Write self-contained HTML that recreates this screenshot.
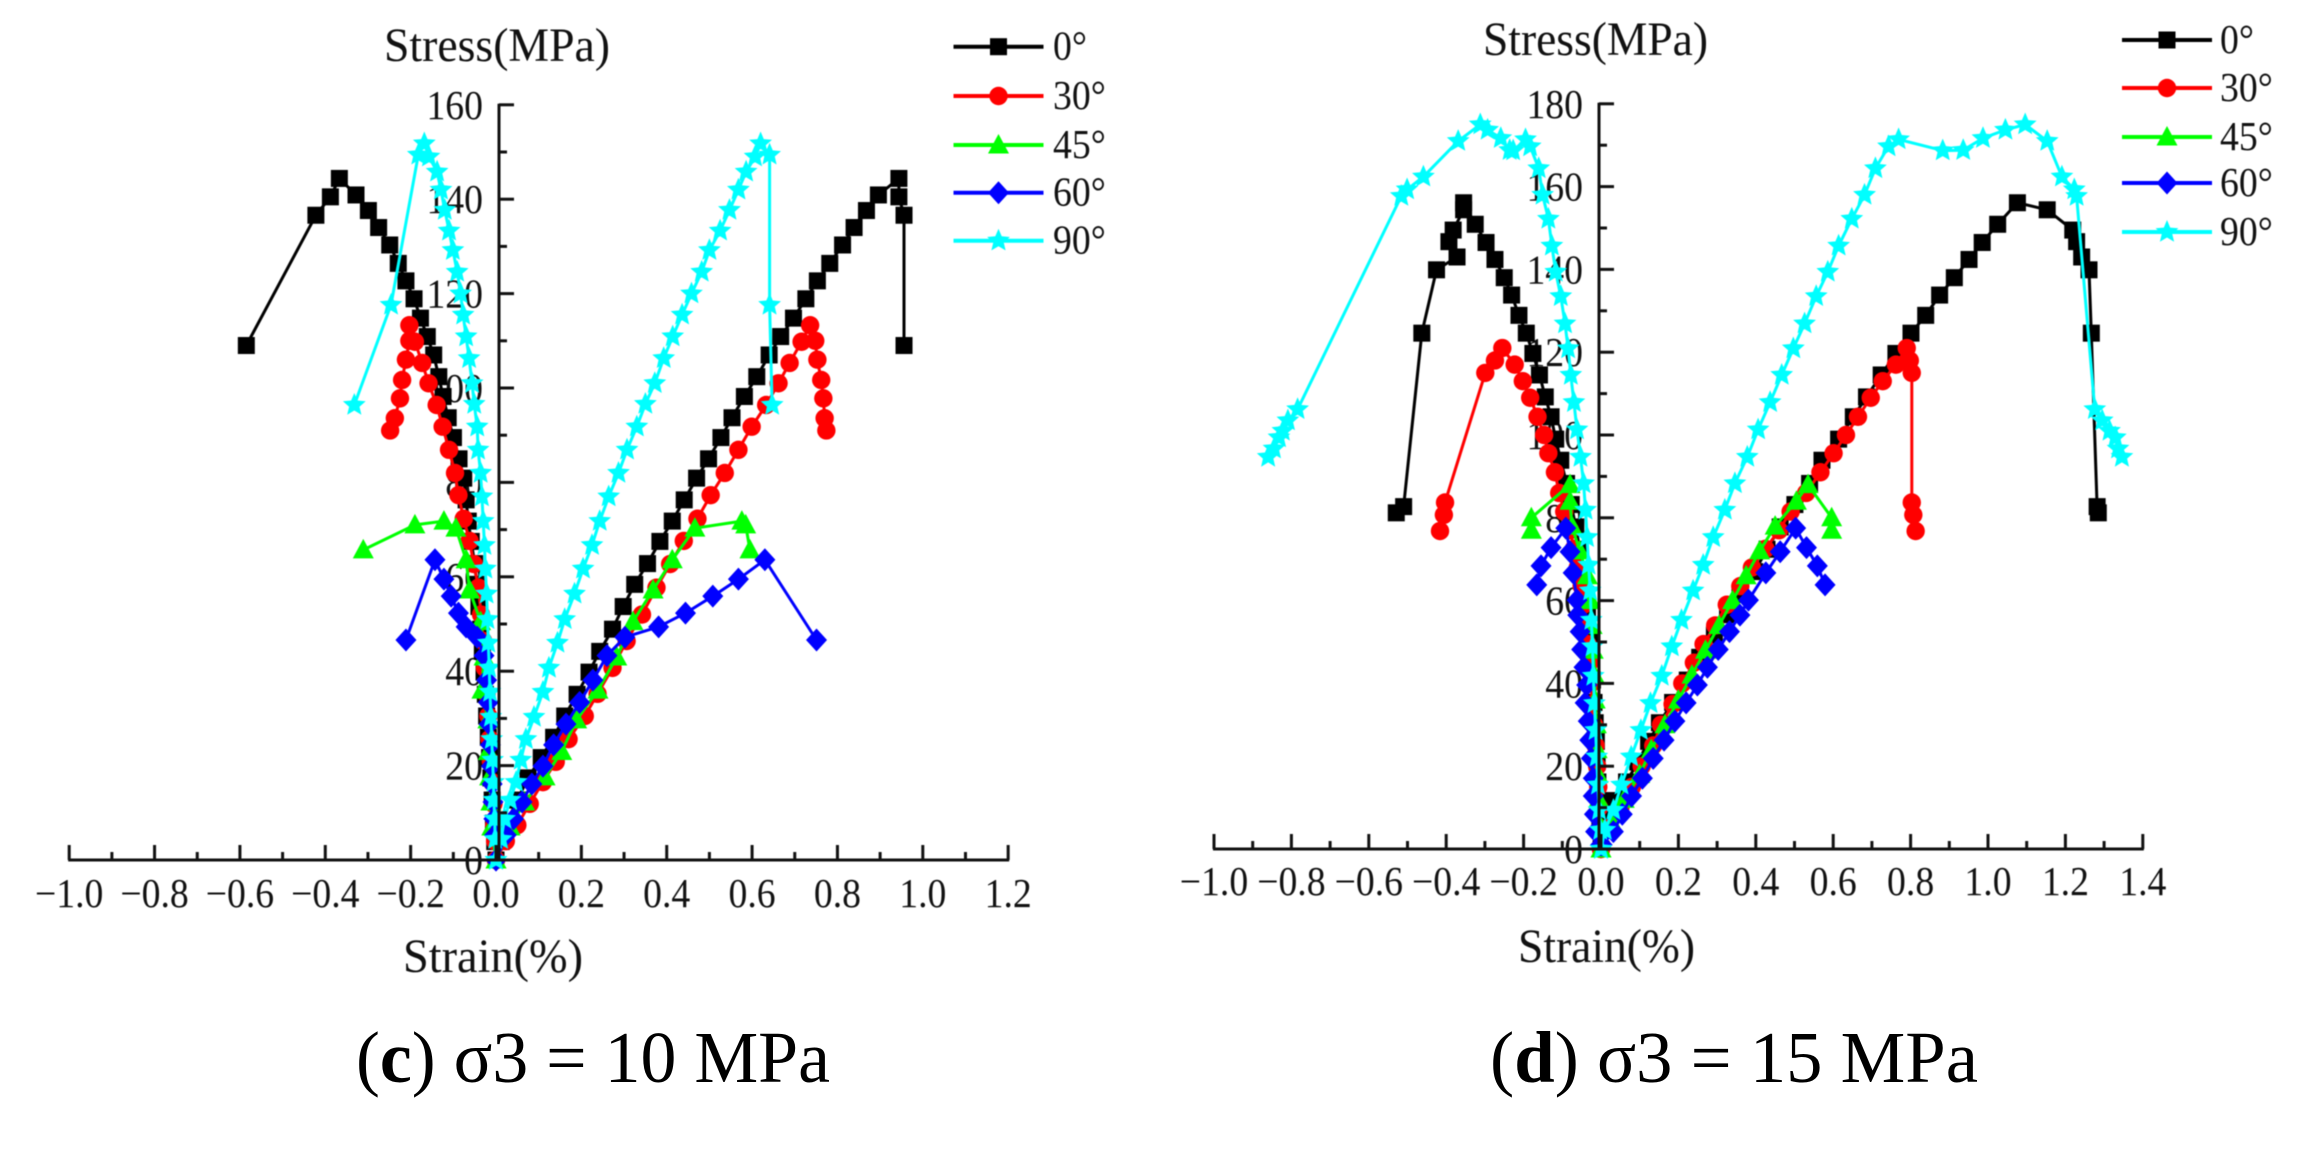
<!DOCTYPE html>
<html lang="en">
<head>
<meta charset="utf-8">
<title>Stress-strain curves at confining pressures of 10 and 15 MPa</title>
<style>
html,body{margin:0;padding:0;background:#fff;}
body{width:2297px;height:1151px;overflow:hidden;}
svg{display:block;}
#figure > g{filter:blur(0.5px);}
text{font-family:"Liberation Serif","DejaVu Serif",serif;fill:#111;}
#figure > text{fill:#000;}
</style>
</head>
<body>
<svg id="figure" xmlns="http://www.w3.org/2000/svg" width="2297" height="1151" viewBox="0 0 2297 1151">
<rect x="0" y="0" width="2297" height="1151" fill="#fff"/>
<text x="356" y="1082" font-size="73" textLength="474" lengthAdjust="spacingAndGlyphs">(<tspan font-weight="bold">c</tspan>) σ3 = 10 MPa</text>
<text x="1490" y="1082" font-size="73" textLength="488" lengthAdjust="spacingAndGlyphs">(<tspan font-weight="bold">d</tspan>) σ3 = 15 MPa</text>
</svg>
<script>
// Panel (c), sigma3 = 10 MPa
const c0Stress=[0,3.9,7.8,12.7,17.4,21.7,26,30.5,35.1,39.8,44.2,48.9,53.7,58.4,62.8,67.5,71.8,76.3,80.9,85,89.5,93.7,98.2,102.4,107,110.9,114.8,118.9,122.7,126.4,130.3,134,137.6,140.9,144.4,140.5,136.6,109];
const c0Axial=[0,.012,.024,.05,.075,.106,.135,.161,.19,.218,.243,.273,.298,.325,.355,.384,.413,.441,.47,.498,.527,.553,.582,.611,.64,.667,.697,.726,.753,.782,.812,.839,.868,.896,.944,.944,.956,.956];
const c0Lateral=[0,-.003,-.006,-.009,-.012,-.015,-.018,-.022,-.025,-.028,-.032,-.036,-.04,-.045,-.05,-.058,-.065,-.07,-.0756,-.0866,-.0997,-.112,-.124,-.134,-.146,-.161,-.177,-.192,-.211,-.229,-.249,-.275,-.299,-.328,-.367,-.388,-.422,-.585];
const c30Stress=[0,4,7.4,11.9,16.5,20.8,25.6,30.5,35.2,40.7,46.4,52,57.7,62.7,67.6,72.3,77.3,82,86.9,91.8,96.4,101,105.3,109.8,113.3,110,106,101.7,97.8,93.6,91];
const c30Axial=[0,.023,.05,.079,.11,.14,.17,.208,.238,.273,.306,.342,.376,.408,.44,.472,.503,.536,.568,.599,.633,.662,.688,.716,.736,.748,.753,.762,.767,.77,.774];
const c30Lateral=[0,-.002,-.004,-.006,-.009,-.012,-.015,-.018,-.022,-.026,-.03,-.035,-.041,-.052,-.062,-.0756,-.088,-.096,-.11,-.125,-.139,-.158,-.173,-.19,-.203,-.203,-.211,-.22,-.225,-.237,-.248];
const c45Stress=[0,7,12.3,17.6,23,29.7,36,43,50.5,57.2,63.6,70.3,71.8,71,65.7];
const c45Axial=[0,.033,.067,.115,.154,.189,.239,.283,.321,.368,.413,.466,.576,.585,.595];
const c45Lateral=[0,-.01,-.012,-.015,-.018,-.019,-.033,-.028,-.036,-.062,-.07,-.094,-.122,-.19,-.311];
const c60Stress=[0,5.3,8.7,12.3,16.1,19.9,24.4,28.8,33.4,38.1,43.3,47.2,49.4,52.3,55.9,59.5,63.6,46.6];
const c60Axial=[0,.024,.041,.061,.084,.11,.135,.164,.196,.227,.26,.302,.381,.444,.508,.568,.63,.751];
const c60Lateral=[0,-.003,-.005,-.007,-.009,-.011,-.013,-.016,-.018,-.022,-.028,-.044,-.07,-.088,-.105,-.122,-.143,-.211];
const c90Stress=[0,4.4,8.7,12.7,16.5,21.2,25.6,30.3,35.6,40.7,46,51,56.4,61.7,66.7,71.8,77,82,86.9,91.8,96.6,101,106.3,110.9,115.5,120,124.6,129.2,133.3,137.7,142,145.8,149,151.8,149.4,117.6,96.4];
const c90Axial=[0,.012,.02,.033,.047,.058,.07,.089,.11,.124,.144,.161,.184,.204,.225,.243,.264,.287,.307,.33,.35,.372,.393,.414,.436,.458,.482,.5,.525,.547,.568,.586,.607,.62,.641,.641,.647];
const c90Lateral=[0,-.002,-.003,-.005,-.006,-.008,-.01,-.012,-.014,-.016,-.018,-.02,-.022,-.025,-.027,-.03,-.033,-.036,-.042,-.044,-.051,-.056,-.063,-.07,-.077,-.083,-.091,-.101,-.11,-.12,-.129,-.138,-.157,-.168,-.182,-.246,-.332];

// Panel (d), sigma3 = 15 MPa
const d0Stress=[0,7.3,11.7,16.2,21,26,30.5,35.4,40.8,46.3,51.7,56.6,61.5,67,72.4,77.8,83.2,88.3,93.9,99,104.4,109.2,114.5,119.7,124.6,128.9,133.8,138,142.4,146.5,150.9,156.1,154.4,149.5,146.7,143,139.9,124.6,82.7,81.2];
const d0Axial=[0,.019,.038,.066,.095,.123,.151,.185,.223,.255,.293,.327,.359,.397,.429,.463,.501,.539,.571,.614,.652,.686,.724,.762,.801,.839,.875,.913,.951,.985,1.025,1.076,1.153,1.219,1.229,1.242,1.261,1.267,1.282,1.285];
const d0Lateral=[0,-.003,-.005,-.008,-.01,-.012,-.015,-.018,-.022,-.026,-.03,-.035,-.04,-.047,-.055,-.065,-.077,-.089,-.104,-.117,-.129,-.144,-.159,-.176,-.193,-.212,-.231,-.25,-.274,-.297,-.325,-.355,-.355,-.382,-.393,-.372,-.425,-.463,-.51,-.529];
const d30Stress=[0,5,10,15,20,25,30,35,40,45,49.5,54,59,63.5,68,72.5,77,81.5,86,91,95.6,100,104.4,109,113,117,121,118,115,83.7,80.7,76.8];
const d30Axial=[0,.02,.05,.08,.105,.135,.155,.185,.21,.24,.265,.295,.325,.36,.39,.425,.46,.49,.53,.567,.601,.633,.664,.697,.728,.762,.79,.798,.803,.803,.807,.813];
const d30Lateral=[0,-.002,-.005,-.007,-.01,-.014,-.018,-.022,-.026,-.03,-.035,-.04,-.045,-.05,-.06,-.07,-.08,-.095,-.108,-.119,-.136,-.147,-.164,-.183,-.202,-.223,-.255,-.274,-.299,-.403,-.406,-.416];
const d45Stress=[0,6,12,18,24,30,36,42,48,54,60,66,72,78,84,88,80,77];
const d45Axial=[0,.03,.06,.1,.13,.165,.2,.235,.27,.305,.34,.375,.41,.45,.505,.535,.596,.596];
const d45Lateral=[0,-.004,-.006,-.008,-.01,-.012,-.015,-.017,-.02,-.023,-.027,-.035,-.055,-.075,-.08,-.08,-.18,-.18];
const d60Stress=[1,4.2,8.4,12.8,17.1,21.9,26.3,30.9,35.3,39.6,43.9,48.2,52.5,56.5,60.1,66.7,71.8,77.5,72.8,68.4,63.8];
const d60Axial=[.003,.032,.055,.079,.107,.135,.163,.191,.22,.249,.275,.303,.332,.359,.381,.426,.463,.503,.531,.559,.579];
const d60Lateral=[-.001,-.014,-.017,-.02,-.02,-.025,-.029,-.033,-.041,-.037,-.044,-.05,-.054,-.06,-.062,-.072,-.08,-.091,-.129,-.155,-.166];
const d90Stress=[0,4.6,9.4,15.5,22.3,28.7,35.2,41.8,48.9,55.3,62.4,68.6,75.3,81.9,88.3,94.7,101.3,107.9,114.5,120.9,126.9,133.5,139.4,145.7,152.2,158,164.4,169.7,171.4,168.7,168.8,171.7,173.7,175,171,162.4,159.3,157.7,106.2,103.5,101,99.4,96.7,94.7];
const d90Axial=[0,.01,.032,.053,.078,.103,.128,.157,.183,.208,.238,.264,.29,.32,.346,.378,.406,.437,.467,.497,.526,.556,.586,.614,.648,.681,.709,.743,.769,.883,.936,.987,1.045,1.096,1.153,1.191,1.223,1.229,1.276,1.295,1.314,1.329,1.336,1.346];
const d90Lateral=[0,-.002,-.005,-.008,-.011,-.014,-.017,-.02,-.022,-.025,-.028,-.032,-.036,-.04,-.045,-.053,-.062,-.07,-.078,-.085,-.093,-.104,-.117,-.127,-.136,-.151,-.161,-.183,-.195,-.227,-.236,-.259,-.293,-.312,-.369,-.459,-.501,-.516,-.784,-.809,-.822,-.832,-.845,-.86];

// Tick labels and legend
const cStrainTicks=[-1,-.8,-.6,-.4,-.2,0,.2,.4,.6,.8,1,1.2];
const cStressTicks=[0,20,40,60,80,100,120,140,160];
const dStrainTicks=[-1,-.8,-.6,-.4,-.2,0,.2,.4,.6,.8,1,1.2,1.4];
const dStressTicks=[0,20,40,60,80,100,120,140,160,180];
const seriesAngles=['0°','30°','45°','60°','90°'];
const seriesColors=['#000','#f00','#0f0','#00f','#0ff'];
const seriesMarkers=['square','circle','triangle','diamond','star'];

const NS='http://www.w3.org/2000/svg';
const figure=document.getElementById('figure');

function make(parent,tag,attrs){
  const node=document.createElementNS(NS,tag);
  for(const k in attrs){node.setAttribute(k,attrs[k]);}
  parent.appendChild(node);
  return node;
}

// Text in the reference is slightly condensed horizontally.
function narrowText(parent,x,y,anchor){
  return make(parent,'text',{transform:'translate('+x+','+y+') scale(.92,1)','font-size':41,'text-anchor':anchor});
}

function drawMarker(parent,kind,cx,cy,color){
  let node;
  if(kind==='square'){
    node=make(parent,'rect',{x:cx-8.5,y:cy-8.5,width:17,height:17,fill:color});
  }else if(kind==='circle'){
    node=make(parent,'circle',{cx:cx,cy:cy,r:9.2,fill:color});
  }else if(kind==='triangle'){
    node=make(parent,'polygon',{points:(cx-10.5)+','+(cy+8.5)+' '+(cx+10.5)+','+(cy+8.5)+' '+cx+','+(cy-11),fill:color});
  }else if(kind==='diamond'){
    node=make(parent,'polygon',{points:cx+','+(cy-11.5)+' '+(cx+10.5)+','+cy+' '+cx+','+(cy+11.5)+' '+(cx-10.5)+','+cy,fill:color});
  }else{
    const pts=[];
    for(let i=0;i<10;i++){
      const r=i%2===0?12:5.5;
      const a=-Math.PI/2+i*Math.PI/5;
      pts.push((cx+r*Math.cos(a)).toFixed(1)+','+(cy+r*Math.sin(a)).toFixed(1));
    }
    node=make(parent,'polygon',{points:pts.join(' '),fill:color});
  }
  return node;
}

function drawPanel(cfg){
  const xOf=function(v){return cfg.x0+v*cfg.xUnit;};
  const yOf=function(v){return cfg.y0-v*cfg.yUnit;};
  const panel=make(figure,'g',{});
  
  

  const labels=make(panel,'g',{});
  
  
  cfg.strainTicks.forEach(function(t){
    const lab=narrowText(labels,xOf(t),cfg.y0+cfg.xLabelDrop,'middle');
    
    
    lab.textContent=(t<0?'−':'')+Math.abs(t).toFixed(1);
  });
  cfg.stressTicks.forEach(function(t){
    const lab=narrowText(labels,cfg.axisX-16,yOf(t)+14,'end');
    
    
    lab.textContent=String(t);
  });
  const yt=make(labels,'text',{x:cfg.yTitleX,y:cfg.yTitleY,'font-size':48,textLength:cfg.yTitleLen,lengthAdjust:'spacingAndGlyphs'});
  
  
  yt.textContent='Stress(MPa)';
  const xt=make(labels,'text',{x:cfg.xTitleX,y:cfg.xTitleY,'font-size':48,textLength:cfg.xTitleLen,lengthAdjust:'spacingAndGlyphs'});
  
  
  xt.textContent='Strain(%)';

  const marks=make(panel,'g',{});
  
  
  cfg.series.forEach(function(s,i){
    const color=seriesColors[i];
    const group=make(marks,'g',{});
    
    
    [s.axial,s.lateral].forEach(function(strain){
      const pts=strain.map(function(e,k){return xOf(e).toFixed(1)+','+yOf(s.stress[k]).toFixed(1);});
      const line=make(group,'polyline',{points:pts.join(' '),fill:'none',stroke:color,'stroke-width':3,'stroke-linejoin':'round'});
      
      
      strain.forEach(function(e,k){
        const m=drawMarker(group,seriesMarkers[i],xOf(e),yOf(s.stress[k]),color);
        
        
      });
    });
  });

  const axes=make(panel,'g',{stroke:'#111','stroke-width':3,fill:'none'});
  
  
  const xLine=make(axes,'line',{x1:xOf(cfg.strainTicks[0])-1,x2:xOf(cfg.strainTicks[cfg.strainTicks.length-1])+1,y1:cfg.y0,y2:cfg.y0});
  
  
  const yLine=make(axes,'line',{x1:cfg.axisX,x2:cfg.axisX,y1:yOf(cfg.stressTicks[cfg.stressTicks.length-1])-1,y2:cfg.y0});
  
  
  for(let i=0;i<cfg.strainTicks.length;i++){
    const t=cfg.strainTicks[i];
    const maj=make(axes,'line',{x1:xOf(t),x2:xOf(t),y1:cfg.y0,y2:cfg.y0-15});
    
    
    if(i<cfg.strainTicks.length-1){
      const mid=(t+cfg.strainTicks[i+1])/2;
      const min=make(axes,'line',{x1:xOf(mid),x2:xOf(mid),y1:cfg.y0,y2:cfg.y0-8});
      
      
    }
  }
  for(let i=0;i<cfg.stressTicks.length;i++){
    const t=cfg.stressTicks[i];
    const maj=make(axes,'line',{x1:cfg.axisX,x2:cfg.axisX+15,y1:yOf(t),y2:yOf(t)});
    
    
    if(i<cfg.stressTicks.length-1){
      const mid=(t+cfg.stressTicks[i+1])/2;
      const min=make(axes,'line',{x1:cfg.axisX,x2:cfg.axisX+8,y1:yOf(mid),y2:yOf(mid)});
      
      
    }
  }

  const legend=make(panel,'g',{});
  
  
  seriesAngles.forEach(function(angle,i){
    const rowY=cfg.legendRows[i];
    const row=make(legend,'g',{});
    
    
    const sw=make(row,'line',{x1:cfg.legendX,x2:cfg.legendX+90,y1:rowY,y2:rowY,stroke:seriesColors[i],'stroke-width':4});
    
    
    const mk=drawMarker(row,seriesMarkers[i],cfg.legendX+45,rowY,seriesColors[i]);
    
    
    const tx=narrowText(row,cfg.legendLabelX,rowY+13,'start');
    
    
    tx.textContent=angle;
  });
}

drawPanel({
  name:'panel-c',x0:496,xUnit:426.8,y0:860,yUnit:4.72,axisX:499,xLabelDrop:47,
  strainTicks:cStrainTicks,stressTicks:cStressTicks,
  yTitleX:384,yTitleY:61,yTitleLen:226,xTitleX:403,xTitleY:972,xTitleLen:180,
  legendX:953.5,legendLabelX:1053,legendRows:[46.7,96,145,192.7,240.7],
  series:[
    {stress:c0Stress,axial:c0Axial,lateral:c0Lateral},
    {stress:c30Stress,axial:c30Axial,lateral:c30Lateral},
    {stress:c45Stress,axial:c45Axial,lateral:c45Lateral},
    {stress:c60Stress,axial:c60Axial,lateral:c60Lateral},
    {stress:c90Stress,axial:c90Axial,lateral:c90Lateral}
  ]
});
drawPanel({
  name:'panel-d',x0:1601,xUnit:387,y0:849,yUnit:4.14,axisX:1599,xLabelDrop:46,
  strainTicks:dStrainTicks,stressTicks:dStressTicks,
  yTitleX:1483,yTitleY:55,yTitleLen:225,xTitleX:1518,xTitleY:962,xTitleLen:177,
  legendX:2122,legendLabelX:2220,legendRows:[40,88,137,183,232],
  series:[
    {stress:d0Stress,axial:d0Axial,lateral:d0Lateral},
    {stress:d30Stress,axial:d30Axial,lateral:d30Lateral},
    {stress:d45Stress,axial:d45Axial,lateral:d45Lateral},
    {stress:d60Stress,axial:d60Axial,lateral:d60Lateral},
    {stress:d90Stress,axial:d90Axial,lateral:d90Lateral}
  ]
});
</script>
</body>
</html>
